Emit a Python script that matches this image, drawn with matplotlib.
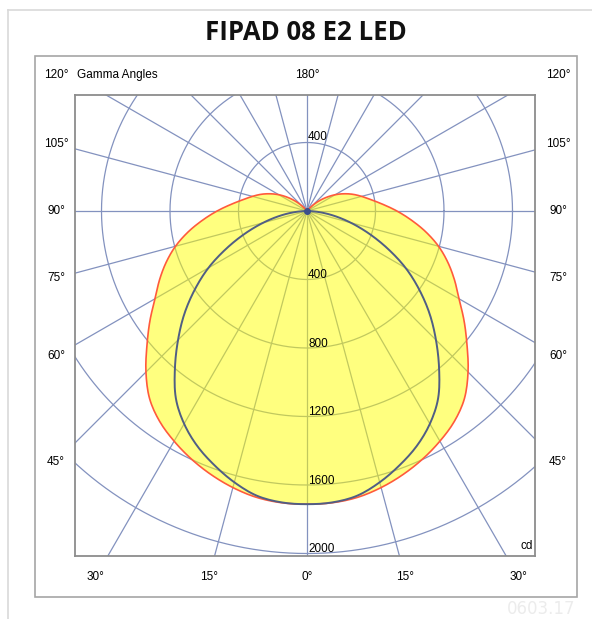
import numpy as np
import matplotlib.pyplot as plt
from matplotlib.patches import Rectangle

# luminous intensity distribution (cd), gamma 0..180 step 5
gamma_deg = list(range(0, 185, 5))
c0_cd = [1712, 1710, 1698, 1672, 1638, 1598, 1552, 1500, 1430, 1330,
         1220, 1120, 1025, 950, 875, 795, 705, 612, 525, 445,
         380, 330, 285, 238, 190, 140, 92, 45, 0, 0,
         0, 0, 0, 0, 0, 0, 0]
c90_cd = [1712, 1708, 1688, 1640, 1580, 1515, 1435, 1335, 1200, 1065,
          935, 800, 665, 520, 385, 265, 160, 70, 0, 0,
          0, 0, 0, 0, 0, 0, 0, 0, 0, 0,
          0, 0, 0, 0, 0, 0, 0]

ring_values = [400, 800, 1200, 1600, 2000]
ring_labels_up = [400]
side_angles = [45, 60, 75, 90, 105]
bottom_angles = [0, 15, 30]
title = "FIPAD 08 E2 LED"

W, H = 592, 619
grid_col = "#8392bf"


def fig_xy(x, y):
    return x / W, 1 - y / H


def to_xy(gam, cd):
    g = np.radians(gam)
    return cd * np.sin(g), -cd * np.cos(g)


def full_curve(gam, cd, sub=8):
    # mirror to -180..180 and draw a smooth catmull-rom line through the readings
    gam = np.array(gam, dtype=float)
    cd = np.array(cd, dtype=float)
    g = np.concatenate([-gam[::-1], gam[1:]])
    v = np.concatenate([cd[::-1], cd[1:]])
    vp = np.concatenate([[v[1]], v, [v[-2]]])
    t = np.linspace(0, 1, sub, endpoint=False)
    gs, vs = [], []
    for i in range(len(v) - 1):
        p0, p1, p2, p3 = vp[i], vp[i + 1], vp[i + 2], vp[i + 3]
        seg = 0.5 * (2 * p1 + (p2 - p0) * t + (2 * p0 - 5 * p1 + 4 * p2 - p3) * t ** 2
                     + (3 * p1 - p0 - 3 * p2 + p3) * t ** 3)
        gs.append(g[i] + (g[i + 1] - g[i]) * t)
        vs.append(seg)
    gs.append([g[-1]])
    vs.append([v[-1]])
    gs = np.concatenate(gs)
    vs = np.clip(np.concatenate(vs), 0, None)
    return to_xy(gs, vs)


fig = plt.figure(figsize=(W / 100, H / 100), dpi=100)
fig.patch.set_facecolor("white")

# page frames
x0, y0 = fig_xy(8, 10)
fig.add_artist(plt.Line2D([x0, x0], [0, y0], color="#d9d9d9", lw=1.2))
fig.add_artist(plt.Line2D([x0, 1], [y0, y0], color="#d9d9d9", lw=1.2))
bx, by = fig_xy(35, 597)
fig.add_artist(Rectangle((bx, by), (577 - 35) / W, (597 - 56) / H,
                         transform=fig.transFigure, fill=False,
                         ec="#a6a6a6", lw=1.2))

tx, ty = fig_xy(306, 33)
fig.text(tx, ty, title, ha="center", va="center", fontsize=18.5,
         fontweight="bold", family="Open Sans", color="#111111")
wx, wy = fig_xy(541, 609)
fig.text(wx, wy, "0603.17", ha="center", va="center", fontsize=12,
         color="#ececec")

# plot box in pixels, scale in px per cd
left, right, top, bottom = 75, 535, 95, 556
cx, cy = 307, 211
k = 68.5 / 400

ax_l, ax_b = fig_xy(left, bottom)
ax = fig.add_axes([ax_l, ax_b, (right - left) / W, (bottom - top) / H])
ax.set_xlim(-(cx - left) / k, (right - cx) / k)
ax.set_ylim(-(bottom - cy) / k, (cy - top) / k)
ax.set_xticks([])
ax.set_yticks([])
for s in ax.spines.values():
    s.set_color("#8c8c8c")
    s.set_linewidth(1.3)

# grid: rings and 15 degree rays
t = np.linspace(0, 2 * np.pi, 721)
for r in ring_values:
    ax.plot(r * np.cos(t), r * np.sin(t), color=grid_col, lw=0.9, zorder=1)
for a in range(0, 360, 15):
    ex, ey = to_xy(a, 4000)
    ax.plot([0, ex], [0, ey], color=grid_col, lw=0.9, zorder=1)

# C0-C180 plane: filled yellow with red outline
xs, ys = full_curve(gamma_deg, c0_cd)
ax.fill(xs, ys, color="#ffff00", alpha=0.5, lw=0, zorder=2)
ax.plot(xs, ys, color="#ff5a3c", lw=1.2, zorder=3)

# C90-C270 plane
xs, ys = full_curve(gamma_deg, c90_cd)
ax.plot(xs, ys, color="#505e84", lw=1.4, zorder=4)

ax.plot([0], [0], "o", ms=4, color="#3b4f8c", zorder=5)

# intensity labels along the vertical
fs = 8.5
for r in ring_labels_up:
    ax.text(6, r, str(r), ha="left", va="bottom", fontsize=fs,
            family="Liberation Sans", zorder=6)
for r in ring_values:
    ax.text(6, -r - 11, str(r), ha="left", va="bottom", fontsize=fs,
            family="Liberation Sans", zorder=6)
ax.text(0.996, 0.022, "cd", transform=ax.transAxes, ha="right", va="center",
        fontsize=fs, family="Liberation Sans")

# gamma angle labels around the box
side = (cx - 56) / k
low = (577 - cy) / k
head = (cy - 75) / k
for a in side_angles:
    yy = -side / np.tan(np.radians(a))
    for sx in (-1, 1):
        ax.text(sx * side, yy, f"{a}°", ha="center", va="center",
                fontsize=fs, family="Liberation Sans", clip_on=False)
for a in bottom_angles:
    xx = low * np.tan(np.radians(a))
    for sx in ((1,) if a == 0 else (-1, 1)):
        ax.text(sx * xx, -low, f"{a}°", ha="center", va="center",
                fontsize=fs, family="Liberation Sans", clip_on=False)
for sx in (-1, 1):
    ax.text(sx * side, head, "120°", ha="center", va="center",
            fontsize=fs, family="Liberation Sans", clip_on=False)
ax.text(0, head, "180°", ha="center", va="center", fontsize=fs,
        family="Liberation Sans", clip_on=False)
ax.text(-(cx - 77) / k, head, "Gamma Angles", ha="left", va="center",
        fontsize=fs, family="Liberation Sans", clip_on=False)

fig.savefig("out.png", dpi=100)
